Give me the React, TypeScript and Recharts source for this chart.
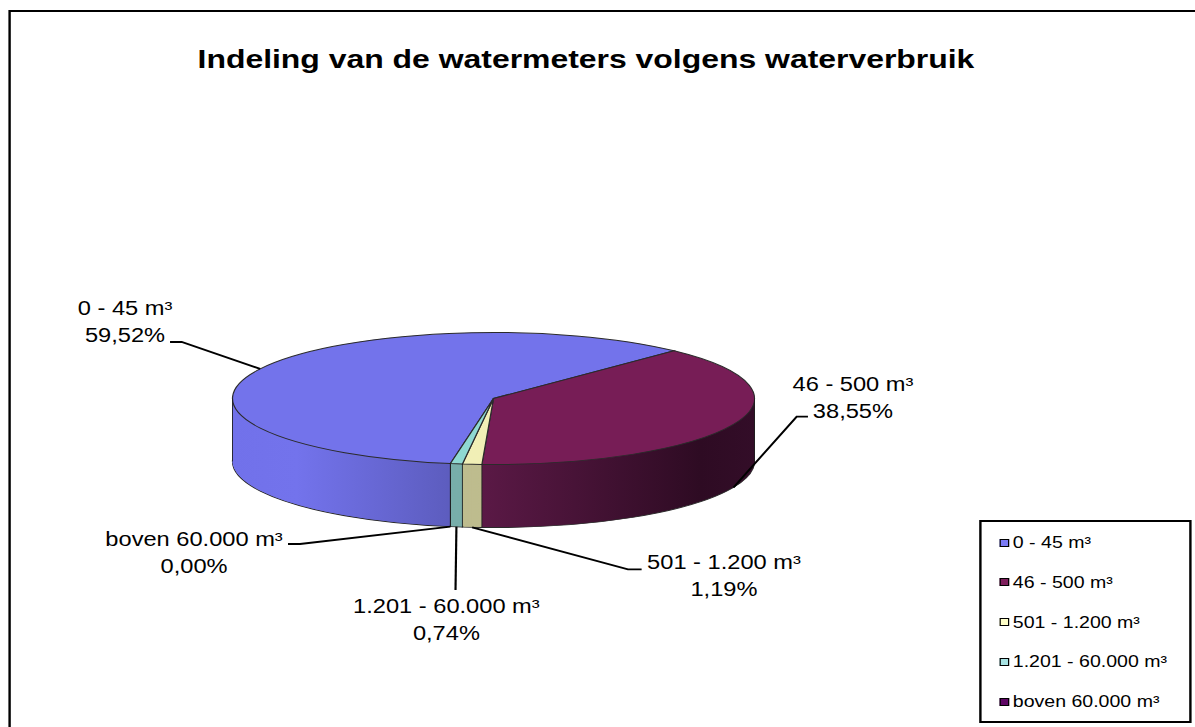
import React from 'react';
import { PieChart, Pie, Cell, Legend } from 'recharts';

// categories and their shares (%)
const CATEGORIES = ['0 - 45 m³', '46 - 500 m³', '501 - 1.200 m³', '1.201 - 60.000 m³', 'boven 60.000 m³'];
const SHARES = [59.52, 38.55, 1.19, 0.74, 0.0];

const TOP_COLORS = ['#7373EB', '#771D56', '#F1EFB6', '#8FD9D2', '#5C0A5C'];
const SIDE_FILLS = ['url(#sideBlue)', 'url(#sideWine)', '#BEBC8E', '#78AEAA', '#3E063E'];
const LEGEND_COLORS = ['#7B7BF6', '#7E1E5C', '#FFFFC8', '#A6E2E2', '#5E0664'];

const data = CATEGORIES.map((name, i) => ({ name, value: SHARES[i] }));

// the reference is stretched horizontally, so everything is drawn narrower and scaled back
const STRETCH = 1.2;
const W = 996;
const H = 727;
const CX = 411.25;
const CY = 398.5;
const R = 217.5;
const K = 66 / 217.5; // ellipse squash
const DEPTH = 63;
const START = -99.5;
const END = START - 360;
const STEP = 2;
const FONT = "'Liberation Sans', Arial, sans-serif";

const layers: number[] = [];
for (let d = DEPTH / K; d > 0; d -= STEP) layers.push(d);

const LABEL_LAYOUT = [
  { pts: [[151.4, 342], [141.7, 342]], x: 104.2, y: 315 },
  { pts: [[663.9, 416.7], [673.3, 416.7]], x: 710.8, y: 390.7 },
  { pts: [[523.3, 569.3], [534.7, 569.3]], x: 603.3, y: 569.3 },
  { pts: [[379.6, 590]], x: 372, y: 613 },
  { pts: [[250, 544], [240, 544]], x: 161.7, y: 546 },
];
const LINE_GAP = 27;

const renderLabel = (p: any) => {
  const { cx, cy, midAngle, startAngle, outerRadius, index } = p;
  const RAD = Math.PI / 180;
  const m = -midAngle * RAD;
  const ax = cx + outerRadius * Math.cos(m);
  let ay = cy + outerRadius * K * Math.sin(m);
  if (Math.sin(m) > 0) ay += DEPTH;
  const lay = LABEL_LAYOUT[index];
  const pts = [[ax, ay], ...lay.pts].map((q) => q.join(',')).join(' ');

  // vertical edges on the front side
  const edges: number[][] = [];
  const s = -startAngle * RAD;
  if (Math.sin(s) > 0.02) edges.push([cx + outerRadius * Math.cos(s), cy + outerRadius * K * Math.sin(s)]);
  if (index === 0) edges.push([cx - outerRadius, cy], [cx + outerRadius, cy]);

  const pct = SHARES[index].toFixed(2).replace('.', ',') + '%';
  return (
    <g key={`lbl-${index}`}>
      {edges.map((e, i) => (
        <line key={i} x1={e[0]} y1={e[1]} x2={e[0]} y2={e[1] + DEPTH} stroke="#1e1e1e" strokeWidth={0.8} />
      ))}
      <polyline points={pts} fill="none" stroke="#000" strokeWidth={1.8} />
      <text x={lay.x} y={lay.y} textAnchor="middle" fontSize={19.7} fontFamily={FONT} fill="#000">
        {CATEGORIES[index]}
      </text>
      <text x={lay.x} y={lay.y + LINE_GAP} textAnchor="middle" fontSize={19.7} fontFamily={FONT} fill="#000">
        {pct}
      </text>
    </g>
  );
};

const LegendBox = () => (
  <div style={{ position: 'relative', width: 177, height: 203, border: '2px solid #000', boxSizing: 'border-box', background: '#fff', fontFamily: FONT }}>
    {CATEGORIES.map((c, i) => (
      <div key={c} style={{ position: 'absolute', left: 15, top: 20.7 + i * 39.75 - 10, height: 20, display: 'flex', alignItems: 'center', fontSize: 16.3, whiteSpace: 'nowrap', color: '#000' }}>
        <span style={{ display: 'inline-block', width: 8.5, height: 8, border: '1px solid #000', boxSizing: 'border-box', background: LEGEND_COLORS[i], marginRight: 3 }} />
        {c}
      </div>
    ))}
  </div>
);

export default function App() {
  return (
    <div style={{ position: 'fixed', left: 0, top: 0, width: 1195, height: 727, overflow: 'hidden', background: '#fff' }}>
      <style>{`.pie-outline path { vector-effect: non-scaling-stroke; }`}</style>
      <div style={{ position: 'absolute', left: 0, top: 0, width: W, height: H, transform: `scaleX(${STRETCH})`, transformOrigin: '0 0' }}>
        <div style={{ position: 'absolute', left: 6.7, top: 10, width: 1100, height: 900, border: '2px solid #000' }} />
        <div style={{ position: 'absolute', left: 0, top: 0 }}>
          <PieChart width={W} height={H} margin={{ top: 0, right: 0, bottom: 0, left: 0 }}>
            <defs>
              <linearGradient id="sideBlue" gradientUnits="userSpaceOnUse" x1={193} y1={0} x2={373} y2={0}>
                <stop offset="0" stopColor="#7171EA" />
                <stop offset="0.3" stopColor="#7373EC" />
                <stop offset="1" stopColor="#5D5DBF" />
              </linearGradient>
              <linearGradient id="sideWine" gradientUnits="userSpaceOnUse" x1={400} y1={0} x2={629} y2={0}>
                <stop offset="0" stopColor="#5B1946" />
                <stop offset="0.8" stopColor="#2E0B23" />
                <stop offset="1" stopColor="#330D28" />
              </linearGradient>
            </defs>
            <text x={488.3} y={68} textAnchor="middle" fontSize={26.6} fontWeight="bold" fontFamily={FONT} fill="#000">
              Indeling van de watermeters volgens waterverbruik
            </text>
            <g transform={`translate(0 ${CY}) scale(1 ${K}) translate(0 ${-CY})`}>
              {layers.map((d, li) => (
                <Pie
                  key={`side-${li}`}
                  data={data}
                  dataKey="value"
                  nameKey="name"
                  cx={CX}
                  cy={CY + d}
                  outerRadius={R}
                  startAngle={START}
                  endAngle={END}
                  stroke={li === 0 ? '#2b2b2b' : 'none'}
                  strokeWidth={li === 0 ? 1 : 0}
                  className={li === 0 ? 'pie-outline' : undefined}
                  legendType="none"
                  isAnimationActive={false}
                  zIndex={0}
                >
                  {data.map((_, i) => (
                    <Cell key={i} fill={SIDE_FILLS[i]} />
                  ))}
                </Pie>
              ))}
              <Pie
                data={data}
                dataKey="value"
                nameKey="name"
                cx={CX}
                cy={CY}
                outerRadius={R}
                startAngle={START}
                endAngle={END}
                stroke="#2b2b2b"
                strokeWidth={1}
                className="pie-outline"
                isAnimationActive={false}
                zIndex={0}
              >
                {data.map((_, i) => (
                  <Cell key={i} fill={TOP_COLORS[i]} />
                ))}
              </Pie>
            </g>
            <Pie
              data={data}
              dataKey="value"
              nameKey="name"
              cx={CX}
              cy={CY}
              outerRadius={R}
              startAngle={START}
              endAngle={END}
              fill="none"
              stroke="none"
              legendType="none"
              label={renderLabel}
              labelLine={false}
              isAnimationActive={false}
            >
              {data.map((_, i) => (
                <Cell key={i} fill="none" stroke="none" />
              ))}
            </Pie>
            <Legend
              content={() => <LegendBox />}
              wrapperStyle={{ position: 'absolute', left: 815.5, top: 520, width: 177, height: 203, bottom: 'auto', right: 'auto' }}
            />
          </PieChart>
        </div>
      </div>
    </div>
  );
}
